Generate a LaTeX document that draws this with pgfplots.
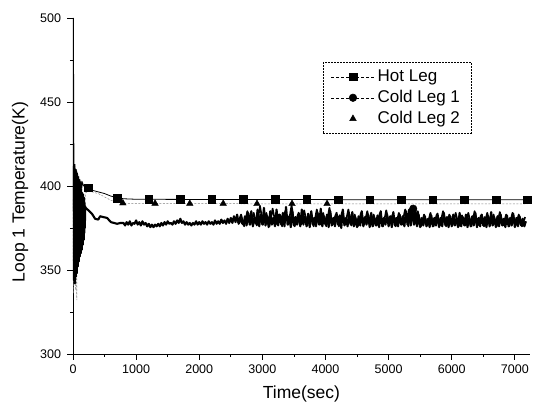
\documentclass[border=0pt]{standalone}
\usepackage{fontspec}
\setmainfont{Liberation Sans}
\usepackage{pgfplots}
\pgfplotsset{compat=1.18}
\begin{document}
\begin{tikzpicture}
\path[use as bounding box] (0pt,0pt) rectangle (542pt,410pt);
\begin{axis}[
  at={(73pt,56pt)}, anchor=south west,
  scale only axis, width=457pt, height=336pt,
  xmin=0, xmax=7240, ymin=300, ymax=500,
  axis x line*=bottom, axis y line*=left,
  axis line style={-, line width=0.9pt},
  tick align=outside,
  xtick={0,1000,...,7000}, ytick={300,350,...,500},
  minor x tick num=1, minor y tick num=1,
  major tick length=5.5pt, minor tick length=3pt,
  every tick/.style={line width=0.8pt, black},
  /pgf/number format/assume math mode=true,
  scaled x ticks=false,
  xticklabel style={font=\fontsize{12.5}{14}\selectfont, /pgf/number format/1000 sep={}, yshift=-2pt},
  yticklabel style={font=\fontsize{12.5}{14}\selectfont, xshift=-3pt},
  xlabel={Time(sec)}, ylabel={Loop 1 Temperature(K)},
  xlabel style={font=\fontsize{17.5}{19}\selectfont, at={(axis description cs:0.5,0)}, anchor=center, yshift=-40pt},
  ylabel style={font=\fontsize{17.5}{19}\selectfont, at={(axis description cs:-0.116,0.482)}, anchor=center},
  legend style={at={(axis description cs:0.547,0.869)}, anchor=north west,
    draw=black, dash pattern=on 2pt off 1pt, line width=0.5pt,
    font=\fontsize{17}{19}\selectfont, inner xsep=8pt, inner ysep=6pt,
    row sep=4pt, cells={anchor=west},
    nodes={inner ysep=1pt, inner xsep=3pt, text height=12pt, text depth=3pt}},
  legend image code/.code={\draw[#1, solid, dash pattern=on 3pt off 2pt, line width=0.5pt] plot[mark repeat=2, mark phase=2, mark options={solid}] coordinates {(0pt,0pt) (21.5pt,0pt) (43pt,0pt)};},
]
% Cold Leg 2 (dashed, grey)
\addplot[gray, line width=0.5pt, dash pattern=on 2pt off 1.5pt, forget plot] coordinates {
(0,392) (6,336) (12,402) (20,345) (28,405) (36,338) (44,398) (52,350) (60,332) (68,396)
(80,355) (95,394) (110,365) (125,393) (140,372) (160,394) (180,385) (200,396) (250,397)
(300,396.5) (400,395.5) (500,393.5) (600,391.5) (700,390.3) (800,389.8) (1000,389.6)
(2000,389.5) (3000,389.4) (4000,389.4) (5000,389.4) (6000,389.4) (7200,389.4)};
% Hot Leg
\addplot[black, line width=0.8pt, forget plot] coordinates {
(0,385) (4,500) (9,472) (14,420) (20,404) (30,413) (40,395) (50,410) (60,398) (70,408)
(80,397) (90,406) (100,399) (110,404) (120,398) (130,403) (140,399) (150,402) (170,400)
(200,399.5) (250,398.5) (300,397.5) (400,396.5) (500,395.5) (600,394) (700,393) (800,392.4)
(1000,392.1) (2000,392) (3000,392) (4000,391.9) (5000,391.8) (6000,391.8) (7200,391.8)};
% Cold Leg 1 (noisy)
\addplot[black, line width=2.1pt, line join=round, forget plot] coordinates {
(0,380) (4,348) (8,410) (12,344) (16,412) (20,350) (24,408) (28,342) (32,410) (36,352)
(40,405) (44,346) (48,409) (52,355) (56,404) (60,348) (64,407) (68,358) (72,402) (76,352)
(80,405) (84,360) (88,400) (92,355) (96,403) (100,362) (104,398) (108,358) (112,400)
(116,365) (120,396) (124,360) (128,398) (132,366) (136,395) (140,362) (144,396) (148,368)
(152,394) (156,365) (160,395) (164,370) (168,392) (172,368) (176,393) (180,372) (184,390)
(188,375) (192,388) (200,387) (230,386) (260,385) (300,383.5) (350,380.5) (400,380)
(430,382) (480,381.5) (540,381) (600,378.5) (700,377.5)
(750,378) (800,378) (825,376.5) (850,378.5) (875,377) (900,379) (925,376.5) (950,378)
(975,377.5) (1000,379.5) (1025,377) (1050,378.5) (1075,376.5) (1100,379) (1125,377)
(1150,378) (1175,376) (1200,377.5) (1225,375.5) (1250,377) (1275,375.5) (1300,377)
(1325,376) (1350,377.5) (1375,376) (1400,378) (1425,376.5) (1450,378.5) (1475,377)
(1500,379) (1525,377.5) (1550,378) (1575,377) (1600,379) (1625,377.5) (1650,379.5)
(1675,378) (1700,380.5) (1725,378) (1750,379) (1775,377) (1800,378.5) (1825,377)
(1850,378) (1875,376.5) (1900,378) (1925,377) (1950,379) (1975,377) (2000,378.5)
(2025,377) (2050,379) (2075,377.5) (2100,378.5) (2125,377) (2150,379) (2175,377.5)
(2200,378.5) (2225,377) (2250,379.5) (2275,377.5) (2300,379) (2325,377.5) (2350,380)
(2375,378) (2400,379.5) (2425,377.5) (2450,380.5) (2475,378) (2500,381) (2525,378)
(2550,382) (2575,378.5) (2600,383) (2625,377.5) (2650,381) (2675,378)
(2700,377) (2725,382) (2750,376.5) (2775,384) (2800,377) (2825,385) (2850,376) (2875,381)
(2900,377.5) (2925,386) (2950,376) (2975,383) (3000,377) (3025,387) (3050,376.5) (3075,382)
(3100,375.5) (3125,385) (3150,377) (3175,381) (3200,376) (3225,386) (3250,376.5) (3275,383)
(3300,377) (3325,384) (3350,376) (3375,387.5) (3400,377) (3425,382) (3450,375.5) (3475,385)
(3500,376.5) (3525,381.5) (3550,377) (3575,384) (3600,376) (3625,386) (3650,377) (3675,382)
(3700,376) (3725,383.5) (3750,375.5) (3775,385) (3800,377) (3825,381) (3850,376) (3875,384)
(3900,377) (3925,386.5) (3950,376) (3975,382) (4000,377) (4025,383) (4050,375.5) (4075,385)
(4100,376.5) (4125,381) (4150,376) (4175,384) (4200,377) (4225,382.5) (4250,375) (4275,386)
(4300,376.5) (4325,381) (4350,376) (4375,383) (4400,377) (4425,384.5) (4450,376) (4475,381)
(4500,375.5) (4525,382) (4550,376.5) (4575,385) (4600,376) (4625,381.5) (4650,377) (4675,383)
(4700,375.5) (4725,384) (4750,376) (4775,381) (4800,376.5) (4825,382.5) (4850,375.5) (4875,385)
(4900,376) (4925,381) (4950,377) (4975,383) (5000,376) (5025,382) (5050,375.5) (5075,384.5)
(5100,376.5) (5125,381) (5150,376) (5175,383) (5200,377) (5225,382) (5250,376) (5275,385)
(5300,377) (5325,386) (5350,376.5) (5375,387) (5400,377) (5425,386) (5450,376) (5475,383)
(5500,375.5) (5525,381) (5550,376.5) (5575,382) (5600,376) (5625,380.5) (5650,375.5) (5675,382.5)
(5700,376) (5725,381) (5750,376.5) (5775,383.5) (5800,375.5) (5825,381) (5850,376) (5875,384)
(5900,376.5) (5925,381.5) (5950,375.5) (5975,382) (6000,376) (6025,383) (6050,376.5) (6075,381)
(6100,375.5) (6125,384) (6150,376) (6175,381.5) (6200,376.5) (6225,383) (6250,375.5) (6275,381)
(6300,376) (6325,382) (6350,376.5) (6375,384) (6400,375.5) (6425,381) (6450,376) (6475,383)
(6500,376.5) (6525,381.5) (6550,375.5) (6575,382) (6600,376) (6625,384.5) (6650,376.5) (6675,381)
(6700,375.5) (6725,382) (6750,376) (6775,383) (6800,376.5) (6825,380.5) (6850,375.5) (6875,382.5)
(6900,376) (6925,381) (6950,376.5) (6975,383.5) (7000,375.5) (7025,381) (7050,376) (7075,382)
(7100,376.5) (7125,380.5) (7150,376) (7175,379)};
% second noisy trace inside the band
\addplot[black, line width=1.7pt, line join=round, forget plot] coordinates {
(2612.5,378) (2662.5,383) (2712.5,376) (2762.5,385) (2812.5,377) (2862.5,384) (2912.5,376.5)
(2962.5,388) (3012.5,377) (3062.5,384) (3112.5,376) (3162.5,386.5) (3212.5,377) (3262.5,383)
(3312.5,376) (3362.5,385) (3412.5,377) (3462.5,388.5) (3512.5,376) (3562.5,383) (3612.5,377)
(3662.5,385.5) (3712.5,376.5) (3762.5,383) (3812.5,376) (3862.5,386) (3912.5,377) (3962.5,384)
(4012.5,376) (4062.5,387) (4112.5,377) (4162.5,383) (4212.5,376) (4262.5,384.5) (4312.5,377)
(4362.5,386) (4412.5,376.5) (4462.5,383) (4512.5,376) (4562.5,384) (4612.5,377) (4662.5,385)
(4712.5,376) (4762.5,383) (4812.5,376.5) (4862.5,384) (4912.5,376) (4962.5,385.5) (5012.5,377)
(5062.5,383) (5112.5,376) (5162.5,384) (5212.5,377) (5262.5,386) (5312.5,376) (5362.5,388)
(5412.5,377) (5462.5,385) (5512.5,376) (5562.5,383) (5612.5,376.5) (5662.5,384) (5712.5,376)
(5762.5,383) (5812.5,376.5) (5862.5,385) (5912.5,376) (5962.5,383) (6012.5,376.5) (6062.5,384)
(6112.5,376) (6162.5,382.5) (6212.5,376.5) (6262.5,384) (6312.5,376) (6362.5,385) (6412.5,376.5)
(6462.5,382.5) (6512.5,376) (6562.5,384) (6612.5,376.5) (6662.5,383) (6712.5,376) (6762.5,384.5)
(6812.5,376.5) (6862.5,383) (6912.5,376) (6962.5,384) (7012.5,376.5) (7062.5,383) (7112.5,376)
(7162.5,381.5)};
% markers
\addplot[only marks, mark=square*, mark size=3.8pt, black, forget plot] coordinates {
(240,399) (700,392.8) (1200,392) (1700,392) (2200,392) (2700,392) (3200,392) (3700,392)
(4200,391.9) (4700,391.8) (5200,391.8) (5700,391.8) (6200,391.8) (6700,391.8) (7200,391.8)};
\addplot[only marks, mark=*, mark size=3.8pt, black, forget plot] coordinates {
(5390,386.5)};
\addplot[only marks, mark=triangle*, mark size=3.8pt, black, forget plot] coordinates {
(790,389.8) (1300,389.6) (1850,389.5) (2380,389.5) (2915,389.4) (3470,389.4) (4025,389.4)};
\addlegendimage{black, mark=square*, mark size=3.8pt}
\addlegendentry{Hot Leg}
\addlegendimage{black, mark=*, mark size=3.8pt}
\addlegendentry{Cold Leg 1}
\addlegendimage{legend image code/.code={\draw[black, solid, fill=black] plot[only marks, mark=triangle*, mark size=3.8pt, mark options={solid}] coordinates {(21.5pt,0pt)};}}
\addlegendentry{Cold Leg 2}
\end{axis}
\end{tikzpicture}
\end{document}
